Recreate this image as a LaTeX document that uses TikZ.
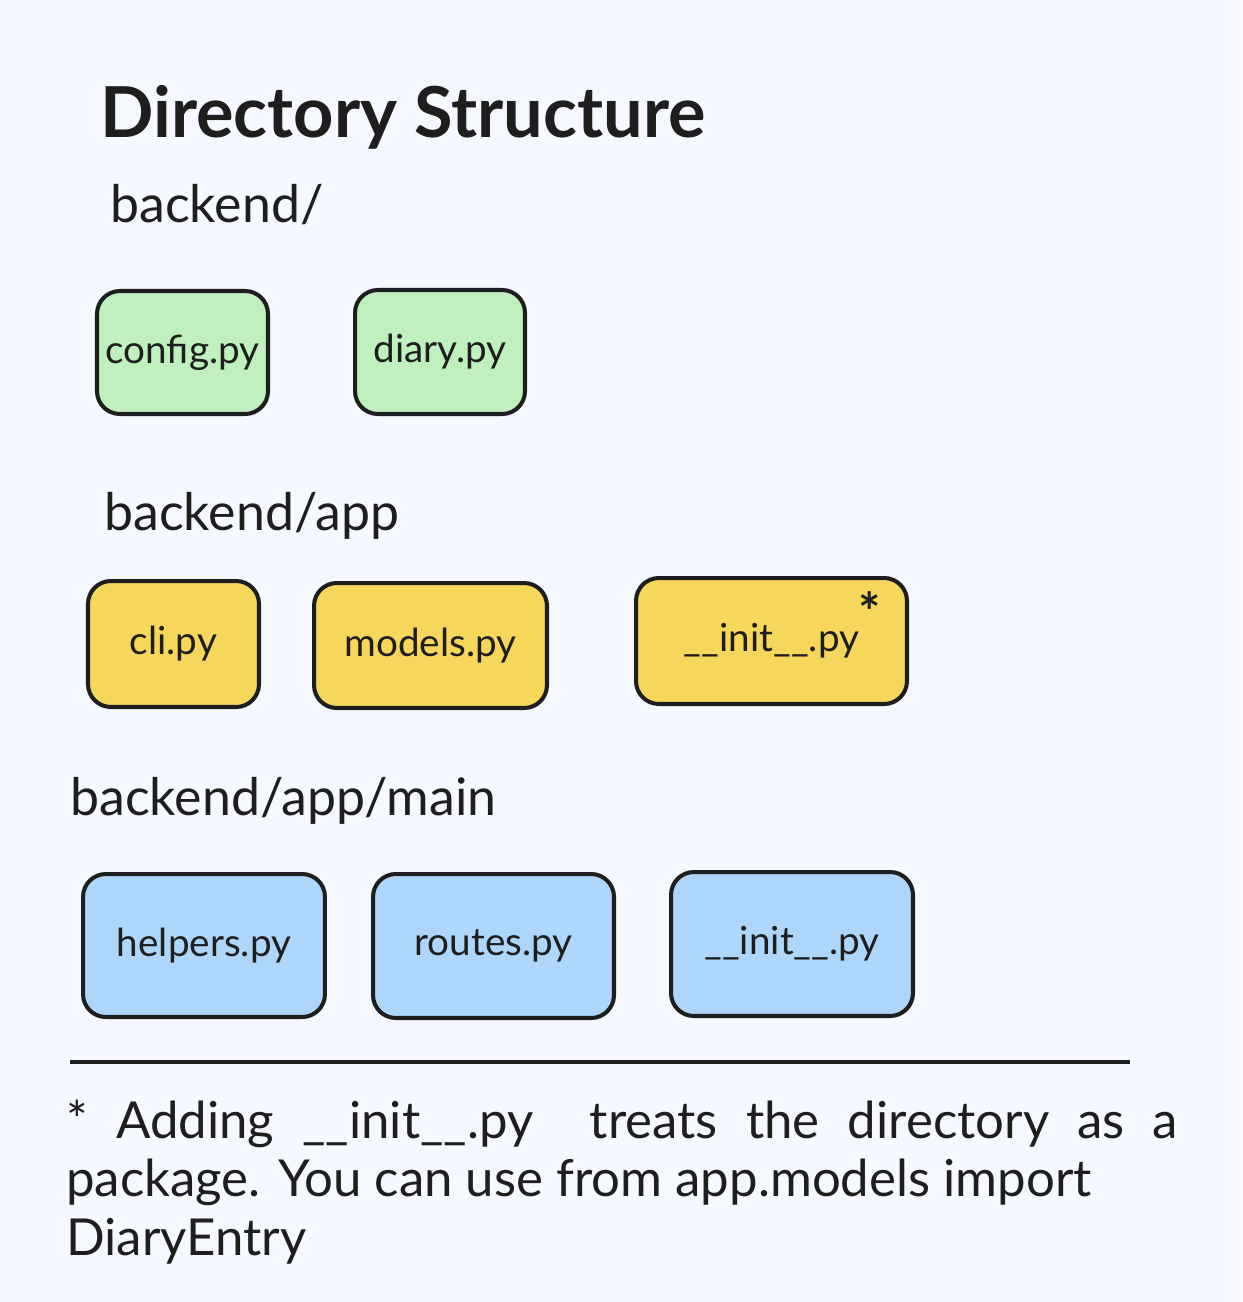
\documentclass[tikz,border=0pt]{standalone}
\usepackage{fontspec}
\setmainfont{Lato}
\definecolor{bg}{HTML}{F5F8FE}
\definecolor{ink}{HTML}{1E1E1E}
\definecolor{fgreen}{HTML}{C0F0C0}
\definecolor{fyellow}{HTML}{F7D65C}
\definecolor{fblue}{HTML}{AED6FA}
\begin{document}
\begin{tikzpicture}[x=0.02cm,y=-0.02cm,
  filebox/.style={draw=ink, line width=2.3pt, rounded corners=13pt, inner sep=0pt,
    text=ink, font=\fontsize{22}{26}\selectfont},
  green/.style={filebox, fill=fgreen},
  yellow/.style={filebox, fill=fyellow},
  blue/.style={filebox, fill=fblue},
  heading/.style={anchor=base west, inner sep=0pt, text=ink, font=\fontsize{29.5}{34}\selectfont}
]
\fill[bg] (0,0) rectangle (1242,1302);
\useasboundingbox (0,0) rectangle (1242,1302);

\node[anchor=base west, inner sep=0pt, text=ink, font=\fontsize{40}{46}\selectfont\bfseries] (title) at (100,137) {Directory Structure};

\node[heading] (h1) at (110,222) {backend/};
\node[heading] (h2) at (104,530) {backend/app};
\node[heading] (h3) at (70,815) {backend/app/main};

\node[green, minimum width=3.42cm, minimum height=2.46cm] (config) at (182.5,352.5) {config.py};
\node[green, minimum width=3.40cm, minimum height=2.48cm] (diary) at (440,352) {diary.py};

\node[yellow, minimum width=3.42cm, minimum height=2.52cm] (cli) at (173.5,644) {cli.py};
\node[yellow, minimum width=4.66cm, minimum height=2.50cm] (models) at (430.5,645.5) {models.py};
\node[yellow, minimum width=5.42cm, minimum height=2.52cm] (init1) at (771.5,641) {\_\_init\_\_.py};
\node[inner sep=0pt, text=ink, font=\fontsize{30}{30}\selectfont\bfseries] (star) at (870,612) {*};

\node[blue, minimum width=4.84cm, minimum height=2.86cm] (helpers) at (204,945.5) {helpers.py};
\node[blue, minimum width=4.82cm, minimum height=2.88cm] (routes) at (493.5,946) {routes.py};
\node[blue, minimum width=4.84cm, minimum height=2.88cm] (init2) at (792,944) {\_\_init\_\_.py};

\coordinate (ruleL) at (70,1062);
\coordinate (ruleR) at (1130,1062);
\draw[ink, line width=2.3pt] (ruleL) -- (ruleR);

\node[anchor=base west, inner sep=0pt, text=ink, align=left,
  font=\fontsize{29}{33.2}\selectfont] (note) at (66,1255)
  {\makebox[22.24cm][s]{* Adding \_\_init\_\_.py\ \ treats the directory as a}\\
   package. You can use from app.models import\\
   DiaryEntry};
\end{tikzpicture}
\end{document}
